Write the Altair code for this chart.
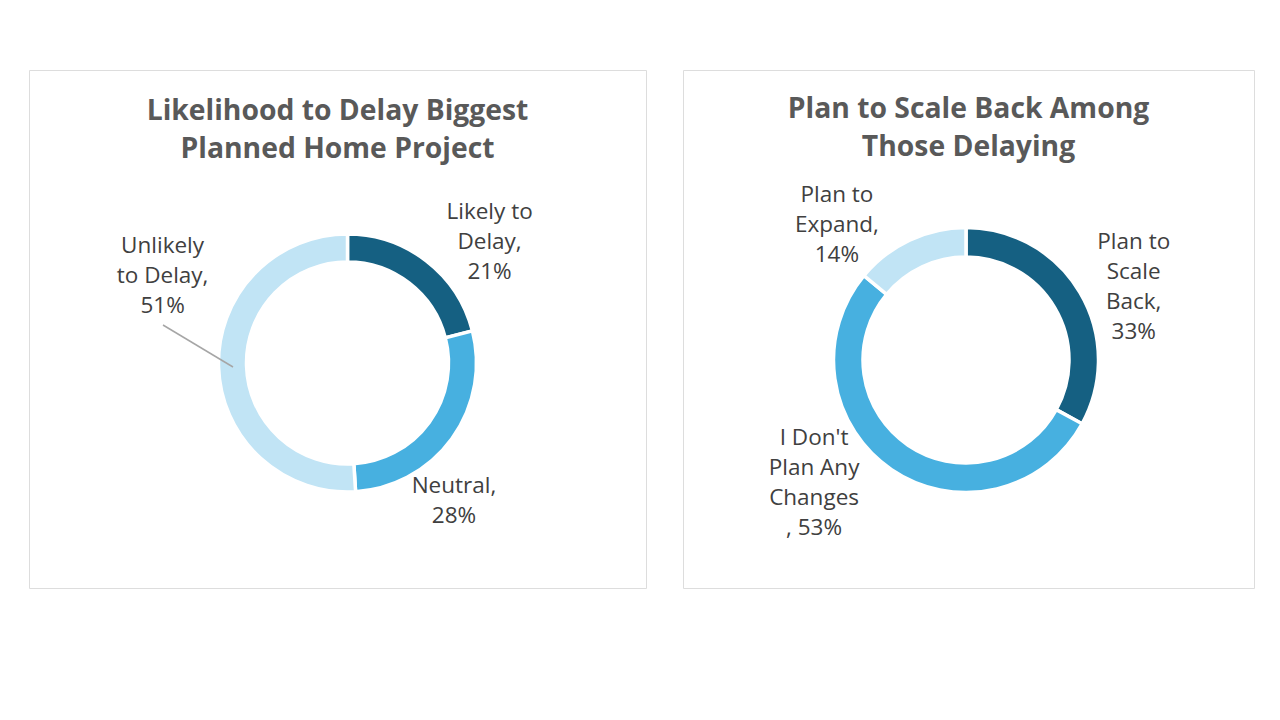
import altair as alt
import pandas as pd

# ---- data ----
left_title = "Likelihood to Delay Biggest\nPlanned Home Project"
left_cats = ["Likely to Delay", "Neutral", "Unlikely to Delay"]
left_vals = [21, 28, 51]
left_labels = ["Likely to\nDelay,\n21%", "Neutral,\n28%", "Unlikely\nto Delay,\n51%"]

right_title = "Plan to Scale Back Among\nThose Delaying"
right_cats = ["Plan to Scale Back", "I Don't Plan Any Changes", "Plan to Expand"]
right_vals = [33, 53, 14]
right_labels = ["Plan to\nScale\nBack,\n33%", "I Don't\nPlan Any\nChanges\n, 53%", "Plan to\nExpand,\n14%"]

colors = ["#156082", "#47B0E0", "#C1E4F5"]

FONT = "Open Sans"
TITLE_COLOR = "#595959"
LABEL_COLOR = "#404040"


def panel(title, cats, vals, labels, w, h, cx, cy, r_in, r_out, title_y,
          offsets, leader=None):
    df = pd.DataFrame({"cat": cats, "val": vals, "label": labels,
                       "order": list(range(len(cats)))})
    base = alt.Chart(df).encode(
        theta=alt.Theta("val:Q", stack=True),
        order=alt.Order("order:Q"),
        x=alt.value(cx), y=alt.value(cy),
    )
    arcs = base.mark_arc(innerRadius=r_in, outerRadius=r_out,
                         stroke="white", strokeWidth=3.5).encode(
        color=alt.Color("cat:N", scale=alt.Scale(domain=cats, range=colors),
                        legend=None)
    )
    layers = [arcs]
    for cat, (dx, dy) in zip(cats, offsets):
        t = base.mark_text(radius=160, dx=dx, dy=dy, font=FONT, fontSize=22.5,
                           color=LABEL_COLOR, lineBreak="\n", lineHeight=30,
                           align="center", baseline="middle").encode(
            text=alt.condition(alt.datum.cat == cat, alt.Text("label:N"),
                               alt.value(""))
        )
        layers.append(t)
    tdf = pd.DataFrame({"t": [title]})
    ttl = alt.Chart(tdf).mark_text(font=FONT, fontSize=28.3, fontWeight="bold",
                                   color=TITLE_COLOR, lineBreak="\n",
                                   lineHeight=38, align="center",
                                   baseline="middle").encode(
        text="t:N", x=alt.value(w / 2), y=alt.value(title_y))
    layers.append(ttl)
    if leader is not None:
        ldf = pd.DataFrame({"a": [0]})
        x1, y1, x2, y2 = leader
        rule = alt.Chart(ldf).mark_rule(color="#a6a6a6", strokeWidth=1.5).encode(
            x=alt.value(x1), y=alt.value(y1), x2=alt.value(x2), y2=alt.value(y2))
        layers.append(rule)
    return alt.layer(*layers).properties(width=w, height=h)


left = panel(left_title, left_cats, left_vals, left_labels, 617, 518,
             318.5, 293, 101, 129, 42,
             offsets=[(44, -25), (-23, 29), (-25, -122)],
             leader=(134, 255, 204, 297))
right = panel(right_title, right_cats, right_vals, right_labels, 571, 518,
              283, 290, 103, 132.5, 40,
              offsets=[(30, -37), (-62, -54), (-61, -20)])

chart = alt.hconcat(left, right, spacing=35).properties(
    padding={"left": 20, "top": 61, "right": 0, "bottom": 0}
).configure_view(stroke="#d9d9d9", strokeWidth=2).configure(background="white")

chart.save("out.html", embed_options={"renderer": "svg", "actions": False})
